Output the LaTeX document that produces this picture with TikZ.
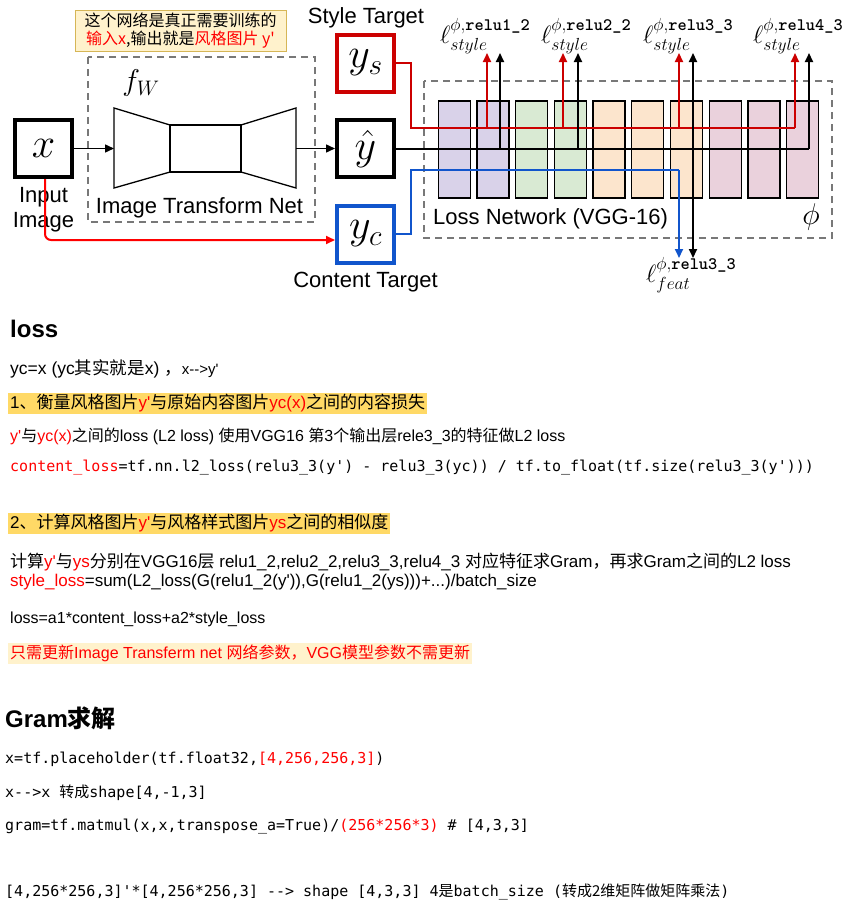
\documentclass[tikz,border=0pt]{standalone}
\usepackage{fix-cm}
\usepackage{amsmath}
\usepackage{fontspec}
\usepackage{xcolor}
\usetikzlibrary{positioning,arrows.meta}
\newfontfamily\bodyfont{Liberation Sans}
\newfontfamily\zhfont{Noto Sans CJK SC}
\newfontfamily\codefont{DejaVu Sans Mono}
\definecolor{stylered}{RGB}{204,0,0}
\definecolor{brightred}{RGB}{255,0,0}
\definecolor{contentblue}{RGB}{17,85,204}
\definecolor{dashgray}{RGB}{120,120,120}
\definecolor{notefill}{RGB}{255,242,204}
\definecolor{noteline}{RGB}{214,182,86}
\definecolor{hlyellow}{RGB}{255,217,102}
\definecolor{vggpurple}{RGB}{217,210,233}
\definecolor{vgggreen}{RGB}{217,234,211}
\definecolor{vggorange}{RGB}{252,229,205}
\definecolor{vggpink}{RGB}{234,209,220}
\newcommand{\zh}[1]{{\zhfont #1}}
\newcommand{\redtxt}[1]{\textcolor{brightred}{#1}}
\newcommand{\px}[1]{\fontsize{#1}{#1}\selectfont}
\newcommand{\layername}[1]{\text{\ttfamily\bfseries #1}}

\tikzset{
  >={Triangle[length=9pt,width=8pt]},
  imgbox/.style={draw, line width=4pt, minimum size=57pt, inner sep=0pt, font=\px{42}},
  dashbox/.style={draw=dashgray, line width=1.8pt, dash pattern=on 7pt off 5pt},
  netline/.style={line width=1.3pt},
  layer/.style={draw, line width=1.3pt, minimum width=32pt, minimum height=97pt, inner sep=0pt},
  label/.style={font=\bodyfont\px{22}},
  losslbl/.style={anchor=base west, inner sep=0pt, font=\px{25}},
  wire/.style={line width=2pt},
  body/.style={anchor=base west, inner sep=0pt, font=\bodyfont\px{17}},
  hl/.style={fill=hlyellow, inner xsep=2pt, inner ysep=1.5pt, text height=14pt, text depth=4.5pt},
  code/.style={anchor=base west, inner sep=0pt, font=\codefont\px{15}},
  heading/.style={anchor=base west, inner sep=0pt, font=\bodyfont\bfseries\px{24}},
}

\begin{document}
\begin{tikzpicture}[x=1pt,y=-1pt]
  \useasboundingbox (0,0) rectangle (854,921);

  % Note above the transform net
  \node[draw=noteline, fill=notefill, line width=1pt, minimum width=211pt, minimum height=41pt,
        align=center, font=\zhfont\px{16}, inner sep=0pt] (note) at (180.5,30.5)
    {这个网络是真正需要训练的\\[2pt]\redtxt{输入x},输出就是\redtxt{风格图片 y'}};

  % Image transform net
  \draw[dashbox] (88,57) rectangle (315,222);
  \node[font=\px{30}] (fw) at (141,83) {$f_W$};
  \draw[netline] (114,108) -- (170,125) -- (170,172) -- (114,188) -- cycle;
  \node[draw, netline, minimum width=71pt, minimum height=47pt] (mid) at (205.5,148.5) {};
  \draw[netline] (241,125) -- (296,108) -- (296,188) -- (241,172) -- cycle;
  \coordinate (netin) at (114,148.5);
  \coordinate (netout) at (296,148.5);
  \node[label, anchor=base] (itn) at (199.5,213) {Image Transform Net};

  % Input and targets
  \node[imgbox] (x) at (43.5,148.5) {$x$};
  \node[label, anchor=base] (xlbl1) at (43.5,202) {Input};
  \node[label, anchor=base] (xlbl2) at (43.5,227) {Image};
  \node[imgbox, draw=stylered] (ys) at (365.5,63) {$y_s$};
  \node[imgbox] (yhat) at (365.5,148.5) {$\hat{y}$};
  \node[imgbox, draw=contentblue] (yc) at (365.5,234) {$y_c$};
  \node[label, anchor=base] (stl) at (366,23) {Style Target};
  \node[label, anchor=base] (ctl) at (365.5,287) {Content Target};

  \draw[->, line width=1.5pt] (x.east) -- (netin);
  \draw[->, line width=1.5pt] (netout) -- (yhat.west);
  \draw[->, wire, brightred, rounded corners=6pt] ([xshift=1.5pt]x.south) |- ([yshift=-6pt]yc.west);

  % Loss network
  \draw[dashbox] (424,81) rectangle (832,238);
  \foreach \i/\c in {0/vggpurple,1/vggpurple,2/vgggreen,3/vgggreen,4/vggorange,
                     5/vggorange,6/vggorange,7/vggpink,8/vggpink,9/vggpink} {
    \node[layer, fill=\c] (L\i) at (454.3+\i*38.7,149.5) {};
  }
  \node[label, anchor=base west, inner sep=0pt] (lnet) at (433,224) {Loss Network (VGG-16)};
  \node[font=\px{30}] (phi) at (811,217) {$\phi$};

  % Buses
  \coordinate (redbus) at (410.5,128);
  \coordinate (redend) at (795,128);
  \coordinate (blkend) at (809,148.5);
  \coordinate (bluebus) at (410.5,170);
  \coordinate (blueend) at (679,170);
  \draw[wire, stylered] (ys.east) -| (redbus) -- (redend);
  \draw[wire] (yhat.east) -- (blkend);
  \draw[wire, contentblue] (yc.east) -| (bluebus) -- (blueend);

  % Style losses
  \foreach \n/\rx/\bx in {1/487/500, 2/563/578, 3/679/693, 4/795/809} {
    \coordinate (rs\n) at (\rx,128);
    \coordinate (rt\n) at (\rx,53);
    \coordinate (bs\n) at (\bx,148.5);
    \coordinate (bt\n) at (\bx,53);
    \draw[->, wire, stylered] (rs\n) -- (rt\n);
    \draw[->, wire] (bs\n) -- (bt\n);
  }
  \node[losslbl] (s1) at (440,43) {$\ell^{\phi,\layername{relu1\_2}}_{style}$};
  \node[losslbl] (s2) at (541,43) {$\ell^{\phi,\layername{relu2\_2}}_{style}$};
  \node[losslbl] (s3) at (643,43) {$\ell^{\phi,\layername{relu3\_3}}_{style}$};
  \node[losslbl] (s4) at (753,43) {$\ell^{\phi,\layername{relu4\_3}}_{style}$};

  % Feature loss
  \coordinate (featb) at (693,258);
  \coordinate (featr) at (679,258);
  \draw[->, wire] (bs3) -- (featb);
  \draw[->, wire, contentblue] (blueend) -- (featr);
  \node[losslbl] (feat) at (646,282) {$\ell^{\phi,\layername{relu3\_3}}_{feat}$};

  % Notes on the loss
  \node[heading] (loss) at (10,337) {loss};
  \node[body, font=\bodyfont\px{17.5}] (l1) at (10,374)
    {yc=x (yc\zh{其实就是}x) \zh{，}{\px{15}x-->y'}};
  \node[body, hl] (l2) at (8,408)
    {1\zh{、衡量风格图片}\redtxt{y'}\zh{与原始内容图片}\redtxt{yc(x)}\zh{之间的内容损失}};
  \node[body, font=\bodyfont\px{16}] (l3) at (10,441)
    {\redtxt{y'}\zh{与}\redtxt{yc(x)}\zh{之间的}loss (L2 loss) \zh{使用}VGG16 \zh{第}3\zh{个输出层}rele3\_3\zh{的特征做}L2 loss};
  \node[code] (l4) at (10,471)
    {\redtxt{content\_loss}=tf.nn.l2\_loss(relu3\_3(y') - relu3\_3(yc)) / tf.to\_float(tf.size(relu3\_3(y')))};
  \node[body, hl] (l5) at (8,528)
    {2\zh{、计算风格图片}\redtxt{y'}\zh{与风格样式图片}\redtxt{ys}\zh{之间的相似度}};
  \node[body] (l6) at (10,567)
    {\zh{计算}\redtxt{y'}\zh{与}\redtxt{ys}\zh{分别在}VGG16\zh{层} relu1\_2,relu2\_2,relu3\_3,relu4\_3 \zh{对应特征求}Gram\zh{，再求}Gram\zh{之间的}L2 loss};
  \node[body] (l7) at (10,586)
    {\redtxt{style\_loss}=sum(L2\_loss(G(relu1\_2(y')),G(relu1\_2(ys)))+...)/batch\_size};
  \node[body, font=\bodyfont\px{16}] (l8) at (10,623) {loss=a1*content\_loss+a2*style\_loss};
  \node[body, hl, fill=notefill, text=brightred, font=\bodyfont\px{16}] (l9) at (8,658)
    {\zh{只需更新}Image Transferm net \zh{网络参数，}VGG\zh{模型参数不需更新}};

  % Gram
  \node[heading] (gram) at (5,727) {Gram\zh{求解}};
  \node[code] (c1) at (5,763) {x=tf.placeholder(tf.float32,\redtxt{[4,256,256,3]})};
  \node[code] (c2) at (5,797) {x-->x \zh{转成}shape[4,-1,3]};
  \node[code] (c3) at (5,830) {gram=tf.matmul(x,x,transpose\_a=True)/\redtxt{(256*256*3)} \# [4,3,3]};
  \node[code] (c4) at (5,896) {[4,256*256,3]'*[4,256*256,3] --> shape [4,3,3] 4\zh{是}batch\_size (\zh{转成2维矩阵做矩阵乘法})};

\end{tikzpicture}
\end{document}
